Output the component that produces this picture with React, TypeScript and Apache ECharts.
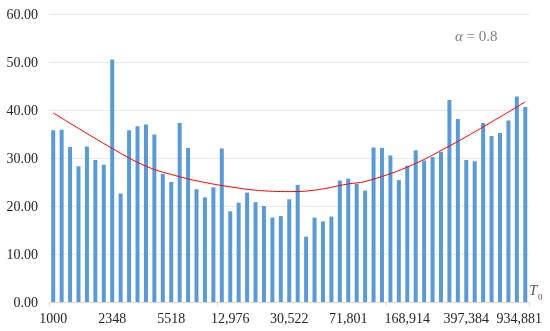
import React, { useEffect, useRef } from "react";
import * as echarts from "echarts";

const values: number[] = [
  35.8, 35.9, 32.3, 28.3, 32.4, 29.6, 28.6, 50.5, 22.6, 35.8,
  36.6, 37.0, 34.9, 26.7, 25.0, 37.3, 32.1, 23.5, 21.8, 23.9,
  32.0, 18.9, 20.7, 22.8, 20.8, 20.0, 17.6, 17.9, 21.4, 24.4,
  13.6, 17.6, 16.8, 17.8, 25.3, 25.7, 24.6, 23.2, 32.2, 32.1,
  30.5, 25.4, 28.4, 31.6, 29.5, 30.2, 31.3, 42.1, 38.1, 29.6,
  29.3, 37.3, 34.6, 35.2, 37.8, 42.8, 40.6,
];

// shown every 7th category
const tickLabels: string[] = [
  "1000", "2348", "5518", "12,976", "30,522", "71,801", "168,914", "397,384", "934,881",
];

// trendline: [category index, value]
const trendIdx: number[] = [0, 7, 11, 15, 18, 21, 24, 28, 31, 35, 37, 42, 47, 52, 56];
const trendVal: number[] = [39.4, 32.0, 28.3, 26.1, 24.9, 24.0, 23.3, 23.0, 23.3, 24.6, 25.1, 28.1, 32.5, 37.5, 41.7];

const FONT = "'Liberation Serif', 'Times New Roman', serif";

export default function App() {
  const ref = useRef<HTMLDivElement>(null);
  useEffect(() => {
    if (!ref.current) return;
    const chart = echarts.init(ref.current, null, { renderer: "svg" });
    const cats = values.map((_, i) => String(i));
    chart.setOption({
      animation: false,
      grid: { left: 49, right: 20.5, top: 14, bottom: 29, containLabel: false },
      xAxis: {
        type: "category",
        data: cats,
        boundaryGap: true,
        axisLine: { show: true, lineStyle: { color: "#d9d9d9", width: 1 } },
        axisTick: { show: true, interval: 19, length: 4, lineStyle: { color: "#d9d9d9" } },
        axisLabel: {
          interval: 6,
          margin: 9,
          color: "#262626",
          fontFamily: FONT,
          fontSize: 14,
          formatter: (v: string) => {
            const i = Number(v);
            const k = i / 7;
            if (k === tickLabels.length - 1) return "{last|" + tickLabels[k] + "}";
            return tickLabels[k] ?? "";
          },
          rich: {
            last: { padding: [0, 12, 0, 0], fontFamily: FONT, fontSize: 14, color: "#262626" },
          },
        },
        splitLine: { show: false },
      },
      yAxis: {
        type: "value",
        min: 0,
        max: 60,
        interval: 10,
        axisLine: { show: false },
        axisTick: { show: false },
        axisLabel: {
          margin: 11,
          color: "#262626",
          fontFamily: FONT,
          fontSize: 14,
          formatter: (v: number) => v.toFixed(2),
        },
        splitLine: { lineStyle: { color: "#e8e8e8", width: 1 } },
      },
      series: [
        {
          type: "bar",
          data: values,
          barWidth: 4,
          itemStyle: { color: "#5b9bd5" },
        },
        {
          type: "line",
          data: trendIdx.map((x, j) => [x, trendVal[j]]),
          smooth: 0.4,
          symbol: "none",
          lineStyle: { color: "#ff0000", width: 1 },
          z: 5,
        },
      ],
      graphic: [
        {
          type: "text",
          left: 455,
          top: 28,
          style: {
            text: "{a|α} = 0.8",
            fontFamily: FONT,
            fontSize: 15,
            fill: "#7f7f7f",
            rich: {
              a: { fontStyle: "italic", fontFamily: FONT, fontSize: 15, fill: "#7f7f7f" },
            },
          },
        },
        {
          type: "text",
          left: 529,
          top: 282,
          style: { text: "T", fontFamily: FONT, fontStyle: "italic", fontSize: 15, fill: "#595959" },
        },
        {
          type: "text",
          left: 538,
          top: 292,
          style: { text: "0", fontFamily: FONT, fontSize: 9, fill: "#595959" },
        },
      ],
    });
    return () => chart.dispose();
  }, []);
  return <div ref={ref} style={{ position: "fixed", left: 0, top: 0, width: 550, height: 331 }} />;
}
